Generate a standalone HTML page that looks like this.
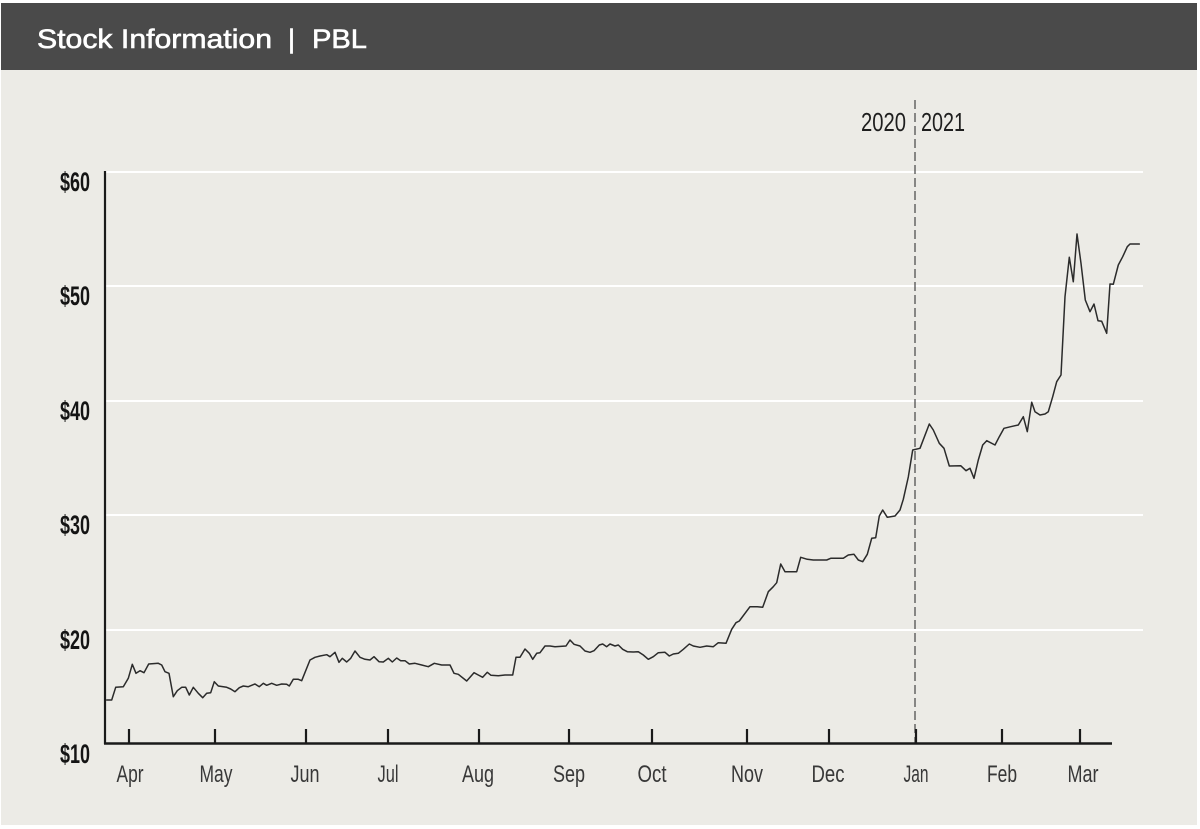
<!DOCTYPE html>
<html>
<head>
<meta charset="utf-8">
<style>
html,body{margin:0;padding:0;background:#ffffff;}
svg{display:block;}
</style>
</head>
<body>
<svg width="1200" height="829" viewBox="0 0 1200 829" xmlns="http://www.w3.org/2000/svg">
  <rect x="0" y="0" width="1200" height="829" fill="#ffffff"/>
  <rect x="1" y="3" width="1196" height="822" fill="#ecebe6"/>
  <rect x="1" y="3" width="1196" height="67" fill="#4a4a4a"/>
  <text x="37" y="48" font-family="Liberation Sans, Arial, sans-serif" font-size="27" fill="#ffffff" stroke="#ffffff" stroke-width="0.6" textLength="235" lengthAdjust="spacingAndGlyphs">Stock Information</text>
  <text x="288" y="48" font-family="Liberation Sans, Arial, sans-serif" font-size="27" fill="#ffffff" stroke="#ffffff" stroke-width="0.6">|</text>
  <text x="312" y="48" font-family="Liberation Sans, Arial, sans-serif" font-size="27" fill="#ffffff" stroke="#ffffff" stroke-width="0.6" textLength="55" lengthAdjust="spacingAndGlyphs">PBL</text>

  <!-- gridlines -->
  <g stroke="#ffffff" stroke-width="2">
    <line x1="105" y1="172" x2="1143" y2="172"/>
    <line x1="105" y1="286" x2="1143" y2="286"/>
    <line x1="105" y1="401" x2="1143" y2="401"/>
    <line x1="105" y1="515" x2="1143" y2="515"/>
    <line x1="105" y1="630" x2="1143" y2="630"/>
  </g>

  <!-- y labels -->
  <g font-family="Liberation Sans, Arial, sans-serif" font-size="27" font-weight="bold" fill="#141414" text-anchor="end">
    <text x="90" y="191" textLength="30" lengthAdjust="spacingAndGlyphs">$60</text>
    <text x="90" y="305" textLength="30" lengthAdjust="spacingAndGlyphs">$50</text>
    <text x="90" y="420" textLength="30" lengthAdjust="spacingAndGlyphs">$40</text>
    <text x="90" y="534" textLength="30" lengthAdjust="spacingAndGlyphs">$30</text>
    <text x="90" y="649" textLength="30" lengthAdjust="spacingAndGlyphs">$20</text>
    <text x="90" y="763" textLength="30" lengthAdjust="spacingAndGlyphs">$10</text>
  </g>

  <!-- dashed year divider -->
  <line x1="915" y1="100" x2="915" y2="743" stroke="#444444" stroke-width="1.2" stroke-dasharray="9 4"/>
  <g font-family="Liberation Sans, Arial, sans-serif" font-size="26" fill="#1e1e1e">
    <text x="861" y="131" textLength="45" lengthAdjust="spacingAndGlyphs">2020</text>
    <text x="921" y="131" textLength="44" lengthAdjust="spacingAndGlyphs">2021</text>
  </g>

  <!-- axes -->
  <line x1="105" y1="171" x2="105" y2="744" stroke="#1a1a1a" stroke-width="2.2"/>
  <line x1="104" y1="743.5" x2="1112" y2="743.5" stroke="#1a1a1a" stroke-width="2.4"/>
  <g stroke="#1a1a1a" stroke-width="2.2">
    <line x1="129" y1="729" x2="129" y2="743"/>
    <line x1="215" y1="729" x2="215" y2="743"/>
    <line x1="306" y1="729" x2="306" y2="743"/>
    <line x1="388" y1="729" x2="388" y2="743"/>
    <line x1="479" y1="729" x2="479" y2="743"/>
    <line x1="569" y1="729" x2="569" y2="743"/>
    <line x1="652" y1="729" x2="652" y2="743"/>
    <line x1="747" y1="729" x2="747" y2="743"/>
    <line x1="829" y1="729" x2="829" y2="743"/>
    <line x1="916" y1="729" x2="916" y2="743"/>
    <line x1="1002" y1="729" x2="1002" y2="743"/>
    <line x1="1080" y1="729" x2="1080" y2="743"/>
  </g>

  <!-- month labels -->
  <g font-family="Liberation Sans, Arial, sans-serif" font-size="24" fill="#383838" text-anchor="middle">
    <text x="130" y="782" textLength="27" lengthAdjust="spacingAndGlyphs">Apr</text>
    <text x="216" y="782" textLength="33" lengthAdjust="spacingAndGlyphs">May</text>
    <text x="305" y="782" textLength="29" lengthAdjust="spacingAndGlyphs">Jun</text>
    <text x="388" y="782" textLength="21" lengthAdjust="spacingAndGlyphs">Jul</text>
    <text x="478" y="782" textLength="32" lengthAdjust="spacingAndGlyphs">Aug</text>
    <text x="569" y="782" textLength="32" lengthAdjust="spacingAndGlyphs">Sep</text>
    <text x="652" y="782" textLength="29" lengthAdjust="spacingAndGlyphs">Oct</text>
    <text x="747" y="782" textLength="32" lengthAdjust="spacingAndGlyphs">Nov</text>
    <text x="828" y="782" textLength="33" lengthAdjust="spacingAndGlyphs">Dec</text>
    <text x="916" y="782" textLength="25" lengthAdjust="spacingAndGlyphs">Jan</text>
    <text x="1002" y="782" textLength="30" lengthAdjust="spacingAndGlyphs">Feb</text>
    <text x="1083" y="782" textLength="31" lengthAdjust="spacingAndGlyphs">Mar</text>
  </g>

  <!-- price line -->
  <polyline fill="none" stroke="#2b2b2b" stroke-width="1.5" stroke-linejoin="round" stroke-linecap="round"
    points="106.7,700 111.7,700 115.7,687.3 123.3,686.7 128.3,678.3 132.3,664.3 136,673.3 140,670.7 144,672.7 148.7,664 158.3,663.3 161.7,665 165,671.7 169,673.3 173.3,696.7 177.3,690.7 181.7,687.3 185.7,687.3 189.3,695 193.3,687.3 198.3,693.3 202.7,697.7 206.7,693.3 210.7,692.7 214.3,681.7 218.3,686 226.7,687.3 230.7,689 235,691.7 239.3,687.7 243.3,686 248.3,686.7 255,684 259.3,686.7 263.3,683.3 266.7,685.3 271.7,683.3 276.7,685.3 281.7,684 286.7,684.3 289.3,686 293.3,679.3 298.3,679.3 301.7,680.7 310,660 315,657.3 320,656 326.7,654.7 330,656.7 335,652.3 339,662.3 342.3,658.3 346.7,662 350.7,658.3 355,651 360,657.3 365,659.3 370,660 374,656.7 379,661.7 383.3,662 388.3,658.3 392.3,662 396.7,658 400.7,660.7 405,660.7 409.3,664 415,663.3 421.7,665 428.3,666.7 434.3,663.3 441.7,665 450,665 454,673.3 458.3,674.3 466.7,681 474,672.7 478.3,675 482.7,677.3 487.3,672.3 491,675.3 498.3,675.7 505,675 512.7,675 516,657.3 520,657.3 525,649 529.3,653.3 532.7,659.3 536.7,653.3 540,652.7 545,646 550,646 555,646.7 566,646 570,640 574,644.3 580,646 585,651 590,652.3 594,650.7 599.3,645 602.7,644 606.7,646.7 610,644 615,646 618.3,645 622.7,649.3 627.3,651.7 633.3,652 638.3,651.7 643.3,655 648.3,659.3 653.3,656.7 658.3,652.7 665,652.3 669.3,656 673.3,654 678.3,653.3 683.3,649.3 689.3,644 693.3,646 700,647.3 706.7,646 713.3,646.7 718.3,642.7 726,643.3 731.7,629.3 736,622.7 739.3,621 750,606.7 757.3,606.7 762.7,607.3 768.3,591.7 773.3,586.7 776.7,582.7 780.7,564 785,571.7 796.7,571.7 800.7,557.3 807.3,559.3 813.3,560 826.7,560 830.7,558.3 843.3,558.3 848.3,555 854,554.3 858.3,560 862.7,561.7 867.3,554.3 871.7,538.3 875.7,537.7 879.3,516 882.7,510 887.3,517.3 895,516 900,510 903.3,499.3 908.3,477 912.7,450 920,448.3 929.3,424 933.3,430 939.3,443.3 944,448.3 949.3,466 960.7,465.7 966,470.7 970,468.3 974,478.3 978.3,460 982.7,445 986.7,440.7 995,445 999.3,436.7 1004,428.3 1010.7,426.7 1018.3,425 1023.3,416.7 1027.3,431.7 1031.7,402.3 1035,411.7 1040,415 1045,414 1048.3,411.7 1052.7,396.7 1056.7,381.7 1061,375 1065,296.7 1069.3,257.3 1073.3,281.7 1077,234 1081,263.3 1085.3,300 1090,311.7 1094,304 1098,320.7 1101.7,321.3 1106.7,333.3 1110,284 1113.3,284.3 1118.3,265 1122.7,256.7 1127.3,246.7 1130,244 1135,244 1139.3,244"/>
</svg>
</body>
</html>
